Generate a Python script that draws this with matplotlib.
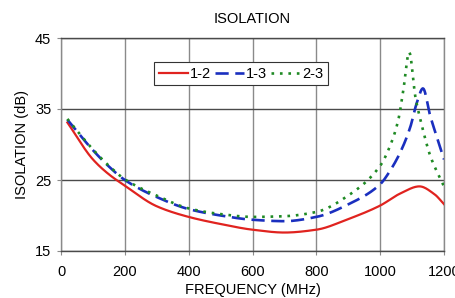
import matplotlib
matplotlib.use("Agg")
import matplotlib.pyplot as plt
import numpy as np

plt.rcParams['font.family'] = ['Liberation Sans', 'DejaVu Sans']

freq_12 = [20, 100, 150, 200, 300, 400, 500, 600, 700, 800, 900, 1000, 1063, 1123, 1170, 1200]
iso_12 = [33.1, 27.9, 25.8, 24.2, 21.3, 19.8, 18.8, 18.0, 17.6, 18.0, 19.5, 21.4, 23.1, 24.1, 23.0, 21.6]

freq_13 = [20, 100, 150, 200, 300, 400, 500, 600, 700, 800, 906, 1000, 1031, 1063, 1094, 1115, 1134, 1157, 1183, 1200]
iso_13 = [33.5, 29.2, 26.9, 25.0, 22.6, 20.9, 20.0, 19.4, 19.2, 19.8, 21.7, 24.4, 26.3, 28.9, 32.4, 35.9, 37.9, 34.0, 30.3, 27.9]

freq_23 = [20, 100, 150, 200, 300, 400, 500, 600, 700, 800, 906, 1000, 1031, 1057, 1073, 1091, 1110, 1131, 1157, 1200]
iso_23 = [33.6, 29.3, 27.0, 25.1, 22.8, 21.0, 20.2, 19.8, 19.9, 20.5, 23.0, 27.0, 29.8, 33.5, 37.8, 43.0, 36.8, 32.6, 28.4, 24.1]

x_ticks = [0, 200, 400, 600, 800, 1000, 1200]
y_ticks = [15, 25, 35, 45]


def smooth(x, y, n=500):
    x = np.asarray(x, float)
    y = np.asarray(y, float)
    xs = np.linspace(x[0], x[-1], n)
    # monotone cubic (PCHIP) interpolation for drawing only
    h = np.diff(x)
    d = np.diff(y) / h
    m = np.zeros_like(y)
    for k in range(1, len(x) - 1):
        if d[k - 1] * d[k] > 0:
            w1 = 2 * h[k] + h[k - 1]
            w2 = h[k] + 2 * h[k - 1]
            m[k] = (w1 + w2) / (w1 / d[k - 1] + w2 / d[k])
    m[0] = d[0]
    m[-1] = d[-1]
    idx = np.clip(np.searchsorted(x, xs) - 1, 0, len(x) - 2)
    t = (xs - x[idx]) / h[idx]
    h00 = 2 * t**3 - 3 * t**2 + 1
    h10 = t**3 - 2 * t**2 + t
    h01 = -2 * t**3 + 3 * t**2
    h11 = t**3 - t**2
    ys = h00 * y[idx] + h10 * h[idx] * m[idx] + h01 * y[idx + 1] + h11 * h[idx] * m[idx + 1]
    return xs, ys


fig = plt.figure(figsize=(4.55, 2.98), dpi=100)
ax = fig.add_axes([61 / 455, 1 - 251 / 298, (444 - 61) / 455, (251 - 38) / 298])

xs, ys = smooth(freq_12, iso_12)
ax.plot(xs, ys, color='#e0231f', lw=1.6, label='1-2', zorder=3)
xs, ys = smooth(freq_13, iso_13)
ax.plot(xs, ys, color='#1a2fbf', lw=1.9, ls=(0, (5, 2.5)), label='1-3', zorder=3)
xs, ys = smooth(freq_23, iso_23)
ax.plot(xs, ys, color='#1f8a24', lw=1.9, ls=(0, (1, 2.2)), label='2-3', zorder=3)

ax.set_xlim(0, 1200)
ax.set_ylim(15, 45)
ax.set_xticks(x_ticks)
ax.set_yticks(y_ticks)
ax.xaxis.grid(True, color='#8a8a8a', lw=1.0)
ax.yaxis.grid(True, color='#4a4a4a', lw=1.0)
ax.set_axisbelow(True)
for s in ['left', 'right']:
    ax.spines[s].set_color('#8a8a8a')
    ax.spines[s].set_linewidth(1.0)
for s in ['top', 'bottom']:
    ax.spines[s].set_color('#4a4a4a')
    ax.spines[s].set_linewidth(1.0)
ax.tick_params(axis='both', length=3, width=0.8, color='#8a8a8a', labelsize=10.5)
ax.tick_params(axis='x', pad=7)
ax.tick_params(axis='y', pad=4)

ax.set_title('ISOLATION', fontsize=10.5, pad=11)
ax.set_xlabel('FREQUENCY (MHz)', fontsize=10.5, labelpad=3)
ax.set_ylabel('ISOLATION (dB)', fontsize=10.5, labelpad=4)

leg = ax.legend(loc='upper center', bbox_to_anchor=(0.47, 0.885), ncol=3, fontsize=10.5,
                frameon=True, fancybox=False, edgecolor='#333333', framealpha=1,
                handlelength=2.0, handletextpad=0.15, columnspacing=0.25,
                borderpad=0.3, borderaxespad=0)
leg.get_frame().set_linewidth(0.8)

fig.savefig('out.png', dpi=100)
